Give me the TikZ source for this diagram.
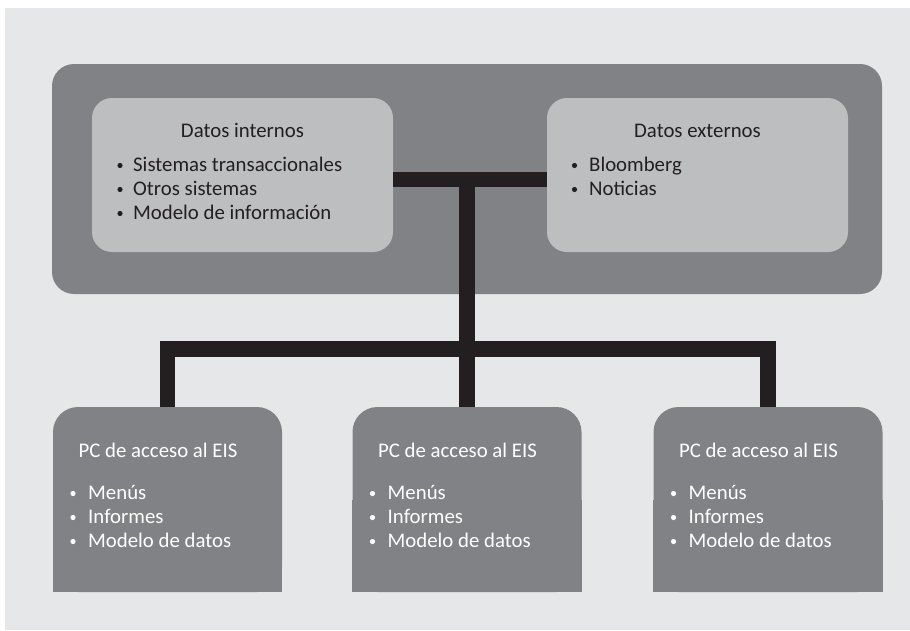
\documentclass[tikz,border=0pt]{standalone}
\usepackage{fontspec}
\setmainfont{Carlito}
\definecolor{bgc}{HTML}{E6E7E8}
\definecolor{darkc}{HTML}{808285}
\definecolor{lightc}{HTML}{BCBEC0}
\definecolor{barc}{HTML}{231F20}
\begin{document}
\begin{tikzpicture}[x=1pt,y=-1pt,
  outerbox/.style={fill=darkc,rounded corners=22pt,minimum width=830pt,minimum height=230pt,inner sep=0pt},
  innerbox/.style={fill=lightc,rounded corners=20pt,minimum width=301pt,minimum height=154pt,inner sep=0pt},
  pcbox/.style={fill=darkc,rounded corners=25pt,minimum width=229pt,minimum height=185pt,inner sep=0pt},
  bar/.style={draw=barc,line width=15.5pt},
  txt/.style={font=\fontsize{20.8}{24}\selectfont,inner sep=0pt},
  dtxt/.style={txt,text=barc},
  wtxt/.style={txt,text=white},
  bul/.style={circle,inner sep=0pt,minimum size=5.2pt}
]
\useasboundingbox (0,0) rectangle (910,630);
\fill[white] (0,0) rectangle (910,630);
\fill[bgc] (5,8) rectangle (910,630);

% top group
\node[outerbox] (outer) at (467,179) {};
\node[innerbox] (inL) at (242.5,175) {};
\node[innerbox] (inR) at (697.5,175) {};

% bottom boxes
\node[pcbox] (pc1) at (167.5,499.5) {};
\node[pcbox] (pc2) at (467,499.5) {};
\node[pcbox] (pc3) at (768,499.5) {};
\foreach \p in {pc1,pc2,pc3}{\fill[darkc] (\p.west) rectangle (\p.south east);}

% connectors
\coordinate (j1) at (467,179.5);
\coordinate (j2) at (467,349);
\draw[bar] (inL.east |- j1) -- (inR.west |- j1);
\draw[bar] (j1) -- (j2);
\draw[bar] (pc1.north) -- (pc1.north |- j2) -- (pc3.north |- j2) -- (pc3.north);
\draw[bar] (j2) -- (pc2.north);

% texts top-left
\node[dtxt,anchor=base] (tL) at (242.5,137) {Datos internos};
\node[bul,fill=barc] (bL1) at (120,165.5) {};
\node[dtxt,anchor=base west] (l1) at (133,171) {Sistemas transaccionales};
\node[bul,fill=barc] (bL2) at (120,189.5) {};
\node[dtxt,anchor=base west] (l2) at (133,195) {Otros sistemas};
\node[bul,fill=barc] (bL3) at (120,213.5) {};
\node[dtxt,anchor=base west] (l3) at (133,219) {Modelo de información};

% texts top-right
\node[dtxt,anchor=base] (tR) at (697.5,137) {Datos externos};
\node[bul,fill=barc] (bR1) at (574.5,165.5) {};
\node[dtxt,anchor=base west] (r1) at (589,171) {Bloomberg};
\node[bul,fill=barc] (bR2) at (574.5,189.5) {};
\node[dtxt,anchor=base west] (r2) at (589,195) {Noticias};

% bottom texts
\foreach \p/\x in {pc1/53,pc2/352.5,pc3/653.5}{
  \node[wtxt,anchor=base west] (\p-t) at (\x+25.5,457) {PC de acceso al EIS};
  \node[bul,fill=white] (\p-b1) at (\x+20,493.5) {};
  \node[wtxt,anchor=base west] (\p-l1) at (\x+35,499) {Menús};
  \node[bul,fill=white] (\p-b2) at (\x+20,517.5) {};
  \node[wtxt,anchor=base west] (\p-l2) at (\x+35,523) {Informes};
  \node[bul,fill=white] (\p-b3) at (\x+20,541.5) {};
  \node[wtxt,anchor=base west] (\p-l3) at (\x+35,547) {Modelo de datos};
}
\end{tikzpicture}
\end{document}
